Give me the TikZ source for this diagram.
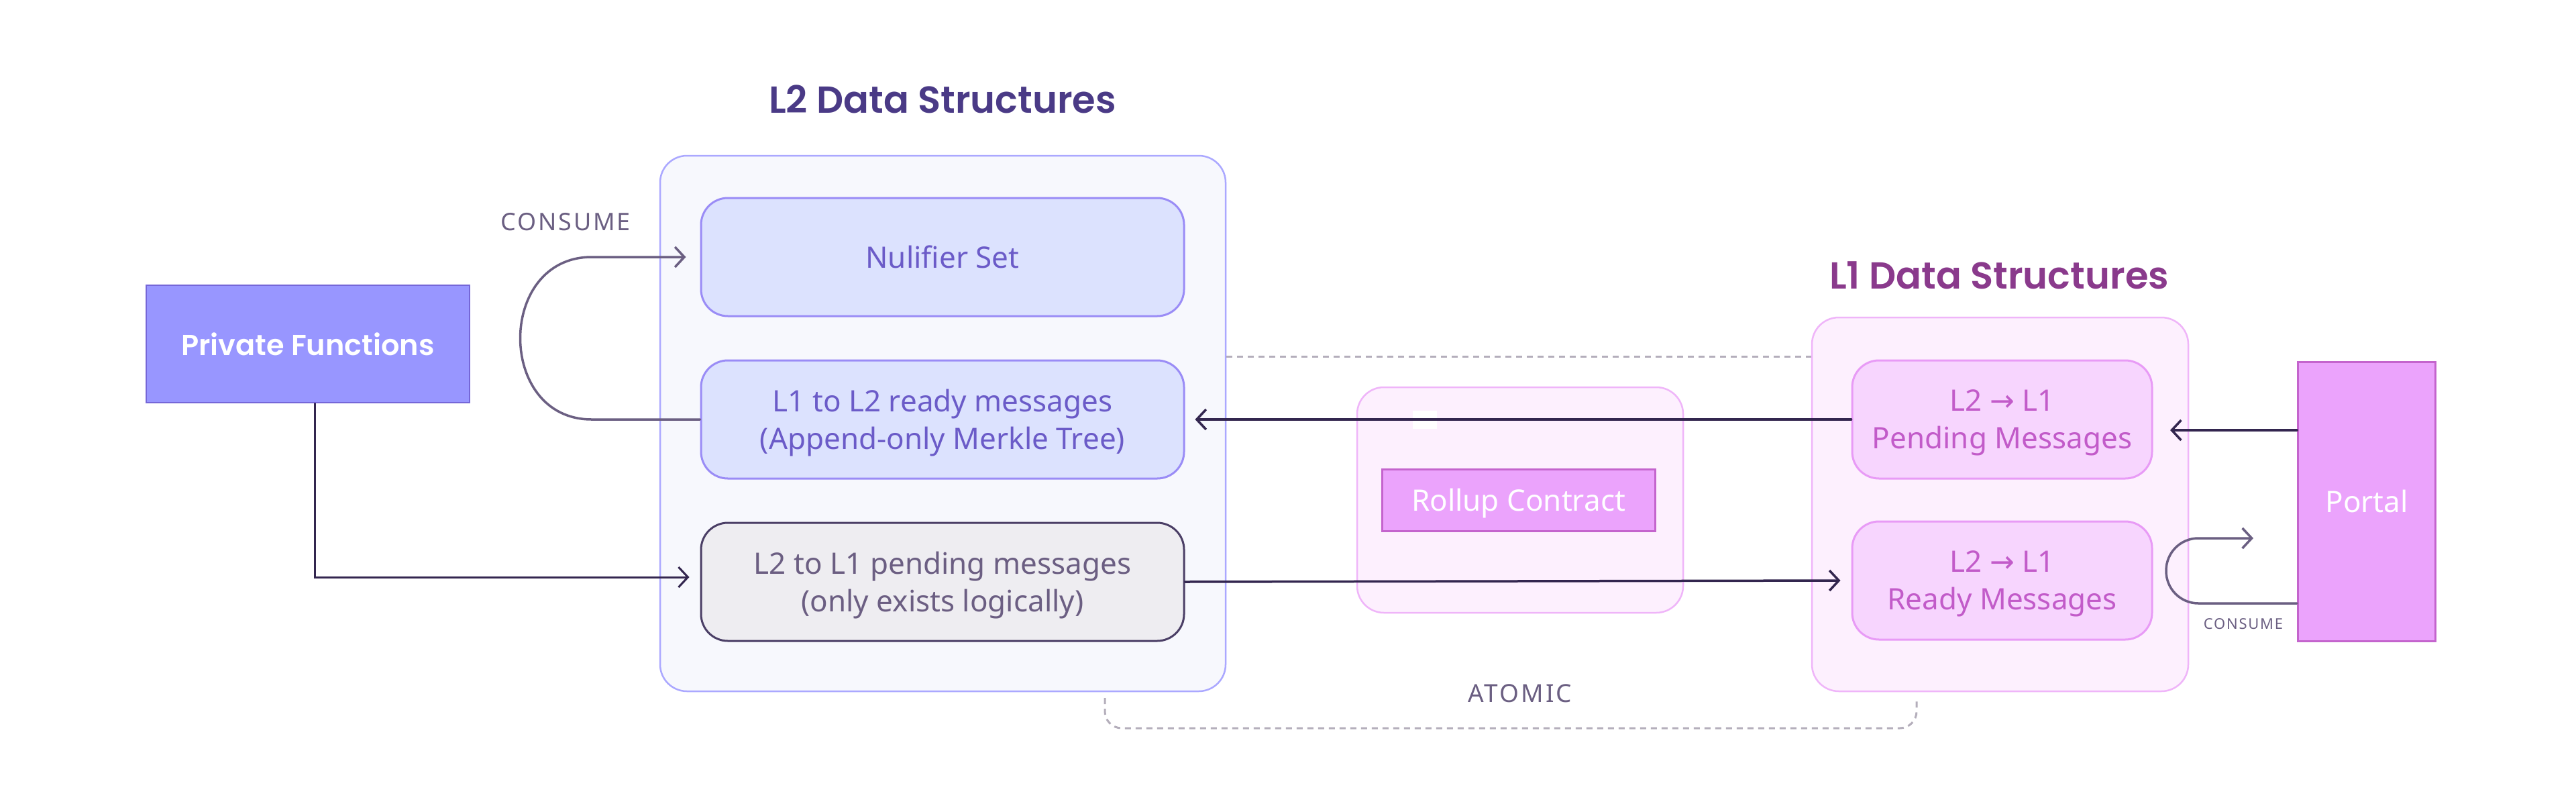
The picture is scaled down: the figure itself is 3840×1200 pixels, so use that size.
\documentclass[tikz,border=0pt]{standalone}
\usepackage{fontspec}
\setmainfont{Noto Sans}
\newfontfamily\titlefont{Poppins SemiBold}
\newfontfamily\pffont{Poppins SemiBold}
\newfontfamily\capsfont{Noto Sans}[LetterSpace=8]
\newfontfamily\arrowfont{DejaVu Sans}
\usetikzlibrary{arrows.meta,calc}
\definecolor{ltwotitle}{HTML}{4A3A86}
\definecolor{lonetitle}{HTML}{8A3A8C}
\definecolor{pffill}{HTML}{9896FF}
\definecolor{pfdraw}{HTML}{7567D8}
\definecolor{ltwocfill}{HTML}{F7F8FD}
\definecolor{ltwocdraw}{HTML}{ABA8FF}
\definecolor{ltwobfill}{HTML}{DCE2FE}
\definecolor{ltwobdraw}{HTML}{9A8CF6}
\definecolor{ltwotext}{HTML}{6B5BC8}
\definecolor{greyfill}{HTML}{EEEDF1}
\definecolor{greydraw}{HTML}{4B3F66}
\definecolor{greytext}{HTML}{6B5E82}
\definecolor{lonecfill}{HTML}{FDF0FE}
\definecolor{lonecdraw}{HTML}{EFB5F9}
\definecolor{lonebfill}{HTML}{F7D5FE}
\definecolor{lonebdraw}{HTML}{E89BF6}
\definecolor{lonetext}{HTML}{C25BC9}
\definecolor{rcfill}{HTML}{EBA3FC}
\definecolor{rcdraw}{HTML}{C464CD}
\definecolor{darkline}{HTML}{33264F}
\definecolor{loopline}{HTML}{6B5F82}
\definecolor{dashcol}{HTML}{B4AEBB}
\tikzset{
  boxtext/.style={font=\fontsize{44}{56}\selectfont, align=center, text depth=0pt},
  container/.style={draw, line width=2.5pt, rounded corners=40pt, inner sep=0pt},
  innerbox/.style={draw, line width=3pt, rounded corners=40pt, inner sep=0pt, minimum width=720pt, minimum height=176pt, boxtext},
  lonebox/.style={draw=lonebdraw, fill=lonebfill, text=lonetext, line width=3pt, rounded corners=40pt, inner sep=0pt, minimum width=447pt, minimum height=176pt, boxtext},
  squarebox/.style={draw=rcdraw, fill=rcfill, text=white, line width=3pt, inner sep=0pt, boxtext},
  tip/.style={-{Straight Barb[length=14pt,width=30pt]}},
  conn/.style={draw=darkline, line width=3.5pt, line cap=round, tip},
  loopconn/.style={draw=loopline, line width=3.5pt, line cap=round, tip},
  dashline/.style={draw=dashcol, line width=3pt, dash pattern=on 9pt off 7pt},
  lbl/.style={text=loopline, inner sep=0pt},
}
\begin{document}
\begin{tikzpicture}[x=1pt,y=-1pt]
\useasboundingbox (0,0) rectangle (3840,1200);
\fill[white] (0,0) rectangle (3840,1200);
% titles
\node[text=ltwotitle, font=\titlefont\fontsize{56}{68}\selectfont] (t2) at (1405,148) {L2 Data Structures};
\node[text=lonetitle, font=\titlefont\fontsize{56}{68}\selectfont] (t1) at (2980,410) {L1 Data Structures};
% containers
\node[container, draw=ltwocdraw, fill=ltwocfill, minimum width=843pt, minimum height=798pt] (l2c) at (1405.5,631) {};
\node[container, draw=lonecdraw, fill=lonecfill, minimum width=561pt, minimum height=557pt] (l1c) at (2981.5,751.5) {};
\node[container, draw=lonecdraw, fill=lonecfill, minimum width=486pt, minimum height=336pt] (rcc) at (2266,745) {};
\fill[white] (2106,612) rectangle (2142,639);
% dashed lines
\draw[dashline] (l2c.east |- 0,531) -- (l1c.west |- 0,531);
\draw[dashline, rounded corners=25pt] (1647,1040) -- (1647,1085) -- (2857,1085) -- (2857,1040);
% boxes
\node[draw=pfdraw, fill=pffill, text=white, line width=2.5pt, minimum width=482pt, minimum height=175pt, inner sep=0pt, font=\pffont\fontsize{43}{56}\selectfont] (pf) at (459,512.5) {Private Functions};
\node[innerbox, draw=ltwobdraw, fill=ltwobfill, text=ltwotext] (nul) at (1405,383) {Nulifier Set};
\node[innerbox, draw=ltwobdraw, fill=ltwobfill, text=ltwotext] (l1l2) at (1405,625) {L1 to L2 ready messages\\(Append-only Merkle Tree)};
\node[innerbox, draw=greydraw, fill=greyfill, text=greytext] (l2l1) at (1405,867) {L2 to L1 pending messages\\(only exists logically)};
\node[lonebox] (pend) at (2984.5,625) {L2 {\arrowfont→} L1\\Pending Messages};
\node[lonebox] (ready) at (2984.5,865) {L2 {\arrowfont→} L1\\Ready Messages};
\node[squarebox, minimum width=407pt, minimum height=92pt] (rc) at (2263.5,745) {Rollup Contract};
\node[squarebox, minimum width=205pt, minimum height=416pt] (portal) at (3528,747) {Portal};
% labels
\node[lbl, font=\capsfont\fontsize{36}{40}\selectfont] (cons1) at (843,331) {CONSUME};
\node[lbl, font=\capsfont\fontsize{37}{40}\selectfont] (atomic) at (2266,1033) {ATOMIC};
\node[lbl, font=\capsfont\fontsize{22}{26}\selectfont] (cons2) at (3344,930) {CONSUME};
% connectors
\coordinate (pendin) at (3235,641);
\coordinate (loopend) at (3359,802);
\draw[conn] (pend.west) -- ([xshift=15pt]l1l2.east);
\draw[conn] (l2l1.east) -- ([xshift=-16pt]ready.west);
\draw[conn] ([yshift=106pt]portal.west) -- (pendin);
\draw[loopconn, rounded corners=48pt] ([yshift=-152pt]portal.west) -- (3229,899) -- (3229,802) -- (loopend);
\draw[loopconn] (l1l2.west) -- (882,625) .. controls (740,625) and (740,383) .. (882,383) -- ([xshift=-21pt]nul.west);
\draw[conn, line width=3pt] ([xshift=10pt]pf.south) |- ([xshift=-16pt,yshift=7pt]l2l1.west);
\end{tikzpicture}
\end{document}
